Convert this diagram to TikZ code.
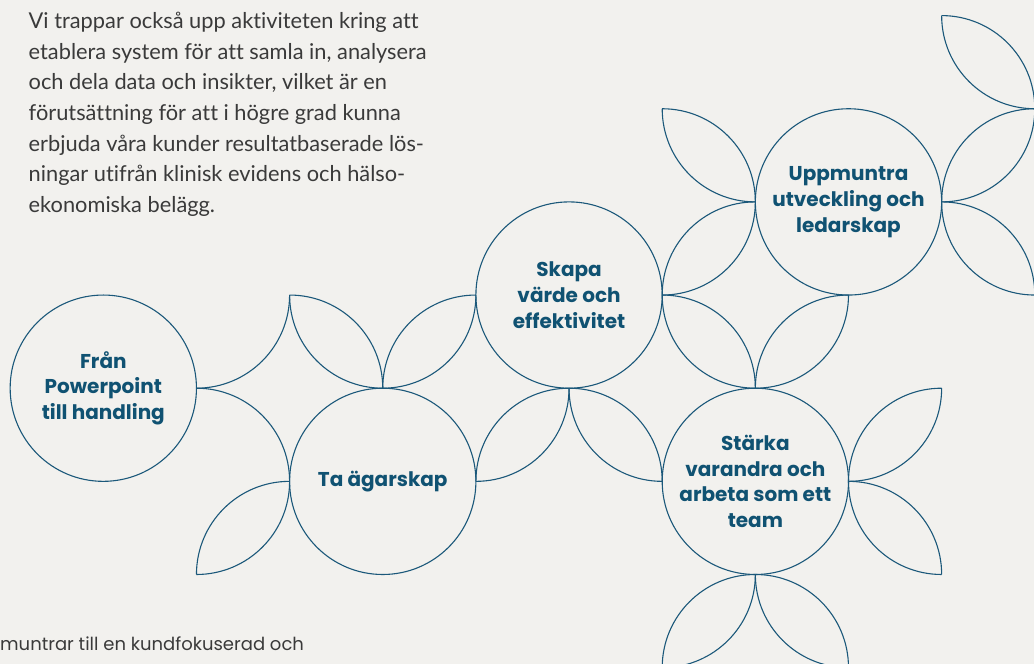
\documentclass[tikz,border=0pt]{standalone}
\usepackage{fontspec}
\setmainfont{Lato}[Ligatures=NoCommon]
\newfontfamily\circfont{Poppins}
\definecolor{bg}{RGB}{242,241,238}
\definecolor{linec}{RGB}{27,88,122}
\definecolor{titlec}{RGB}{16,82,114}
\definecolor{bodyc}{RGB}{58,58,58}
\tikzset{
  ring/.style={circle, draw=linec, line width=1.1pt, minimum size=186.3pt, inner sep=0pt},
  ringtext/.style={align=center, inner sep=0pt, text=titlec, font=\circfont\bfseries\fontsize{20}{25.8}\selectfont},
  leaf/.style={draw=linec, line width=1.1pt},
  body/.style={anchor=base west, inner sep=0pt, text=bodyc, font=\fontsize{21.8}{30.6}\selectfont},
  foot/.style={anchor=base west, inner sep=0pt, text=bodyc, font=\circfont\fontsize{18}{26}\selectfont},
}
\newcommand\leafarc[3]{\draw[leaf] (#1) ++(#2:93.15pt) arc[start angle=#2, end angle=#3, radius=93.15pt];}
\begin{document}
\begin{tikzpicture}[x=1pt,y=1pt]
\useasboundingbox (0,0) rectangle (1034,664);
\fill[bg] (0,0) rectangle (1034,664);
% paragraph
\node[body] (p1) at (28.5,635.3) {Vi trappar också upp aktiviteten kring att};
\node[body] (p2) at (28.5,604.7) {etablera system för att samla in, analysera};
\node[body] (p3) at (28.5,574.1) {och dela data och insikter, vilket är en};
\node[body] (p4) at (28.5,543.5) {förutsättning för att i högre grad kunna};
\node[body] (p5) at (28.5,512.9) {erbjuda våra kunder resultatbaserade lös-};
\node[body] (p6) at (28.5,482.3) {ningar utifrån klinisk evidens och hälso-};
\node[body] (p7) at (28.5,451.7) {ekonomiska belägg.};
\node[foot] (f1) at (0,13.3) {muntrar till en kundfokuserad och};
\begin{scope}[shift={(103.3,275.8)}, x=93.15pt, y=93.15pt]
  \node[ring] (c1) at (0,0) {};
  \node[ring] (c2) at (3,-1) {};
  \node[ring] (c3) at (5,1) {};
  \node[ring] (c4) at (8,2) {};
  \node[ring] (c5) at (7,-1) {};
  \node[ringtext] (t1) at (c1) {Från\\Powerpoint\\till handling};
  \node[ringtext] (t2) at (c2) {Ta ägarskap};
  \node[ringtext] (t3) at (c3) {Skapa\\värde och\\effektivitet};
  \node[ringtext] (t4) at (c4) {Uppmuntra\\utveckling och\\ledarskap};
  \node[ringtext] (t5) at (c5) {Stärka\\varandra och\\arbeta som ett\\team};
  % leaves
  \leafarc{1,1}{270}{360}
  \leafarc{1,-1}{90}{0}
  \leafarc{2,0}{90}{0}
  \leafarc{3,1}{180}{270}
  \leafarc{3,1}{270}{360}
  \leafarc{4,0}{180}{90}
  \leafarc{2,-2}{90}{180}
  \leafarc{1,-1}{0}{-90}
  \leafarc{4,0}{270}{360}
  \leafarc{5,-1}{180}{90}
  \leafarc{5,-1}{90}{0}
  \leafarc{6,0}{180}{270}
  \leafarc{6,0}{90}{0}
  \leafarc{7,1}{180}{270}
  \leafarc{7,1}{270}{360}
  \leafarc{8,0}{180}{90}
  \leafarc{6,2}{270}{360}
  \leafarc{7,1}{180}{90}
  \leafarc{6,2}{0}{90}
  \leafarc{7,3}{270}{180}
  \leafarc{9,3}{270}{360}
  \leafarc{10,2}{180}{90}
  \leafarc{9,3}{0}{90}
  \leafarc{10,4}{270}{180}
  \leafarc{9,1}{90}{0}
  \leafarc{10,2}{180}{270}
  \leafarc{8,0}{270}{360}
  \leafarc{9,-1}{180}{90}
  \leafarc{8,-2}{90}{0}
  \leafarc{9,-1}{180}{270}
  \leafarc{6,-2}{0}{-90}
  \leafarc{7,-3}{90}{180}
  \leafarc{8,-2}{180}{270}
  \leafarc{7,-3}{90}{0}
\end{scope}
\end{tikzpicture}
\end{document}
